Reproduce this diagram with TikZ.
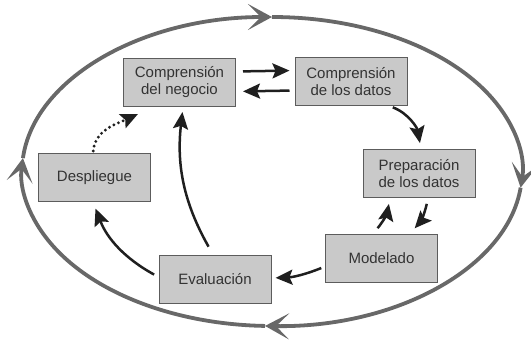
\documentclass[tikz,border=0pt]{standalone}
\usepackage{fontspec}
\setmainfont{Liberation Sans}
\usetikzlibrary{arrows.meta}

\definecolor{grisfase}{HTML}{C9C9C9}
\definecolor{grisborde}{HTML}{5C5C5C}
\definecolor{grisletra}{HTML}{333333}
\definecolor{grisciclo}{HTML}{686868}
\definecolor{negroflecha}{HTML}{1F1F1F}

\begin{document}
\begin{tikzpicture}[
				x = 1pt, y = 1pt, % one unit = one pixel
				> = {Stealth[length=17pt,width=15pt,inset=3pt]}, % arrow head style
				fase/.style = {rectangle, draw=grisborde, fill=grisfase, line width=1pt,
					minimum width=112pt, minimum height=48pt, align=center,
					text=grisletra, font=\fontsize{15}{17}\selectfont},
				paso/.style = {->, line width=2.5pt, color=negroflecha}, % inner arrows
				ciclo/.style = {line width=3.8pt, draw=grisciclo,
					-{Stealth[length=24pt,width=26pt,inset=13pt]}}
				]
				
				\useasboundingbox (0,0) rectangle (531,341);
				
				% outer cycle
				\coordinate (hub) at (272,169.5);
				\draw[ciclo] ([shift={(175:250pt and 154.5pt)}]hub)
					arc[start angle=175, end angle=90, x radius=250pt, y radius=154.5pt];
				\draw[ciclo] ([shift={(90:250pt and 154.5pt)}]hub)
					arc[start angle=90, end angle=-6, x radius=250pt, y radius=154.5pt];
				\draw[ciclo] ([shift={(-6:250pt and 154.5pt)}]hub)
					arc[start angle=-6, end angle=-91.6, x radius=250pt, y radius=154.5pt];
				\draw[ciclo] ([shift={(-91.6:250pt and 154.5pt)}]hub)
					arc[start angle=-91.6, end angle=-185, x radius=250pt, y radius=154.5pt];
				
				\node[fase] (qN) at (179.5,258.5) {Comprensión\\del negocio};
				\node[fase] (qD) at (351,259.5) {Comprensión\\de los datos};
				\node[fase] (qP) at (419,167.5) {Preparación\\de los datos};
				\node[fase] (qM) at (381.5,83) {Modelado};
				\node[fase] (qE) at (215,62) {Evaluación};
				\node[fase] (qS) at (94.5,163.5) {Despliegue};
				
				\path[paso]
				([yshift=11pt]qN.east) edge [shorten <=7pt, shorten >=5pt] ([yshift=11pt]qD.west)
				([yshift=-9pt]qD.west) edge [shorten <=5pt, shorten >=7pt] ([yshift=-9pt]qN.east)
				([xshift=38pt]qD.south) edge [out=-20, in=100, shorten <=4pt, shorten >=6pt] ([xshift=2pt]qP.north)
				([xshift=9pt]qP.south) edge [bend left=15, shorten <=6pt, shorten >=7pt] ([xshift=28.5pt]qM.north)
				([xshift=-8.5pt]qM.north) edge [bend right=15, shorten <=7pt, shorten >=6pt] ([xshift=-29pt]qP.south)
				([yshift=-8.5pt]qM.west) edge [bend left=10, shorten <=4pt, shorten >=4pt] ([yshift=1pt]qE.east)
				([yshift=2pt]qE.west) edge [bend left=20, shorten <=5pt, shorten >=7pt] ([xshift=-1.5pt]qS.south)
				([xshift=-2pt]qE.north) edge [bend left=18, shorten <=9pt, shorten >=5pt] ([xshift=3.5pt]qN.south);
				
				% dotted return from deployment
				\draw[paso, line cap=round, dash pattern=on 0pt off 5pt, line width=3.2pt, shorten <=2pt]
					([xshift=-1.5pt]qS.north) to[out=85, in=205] ([xshift=15pt,yshift=-7pt]qN.south west);
			\end{tikzpicture}
\end{document}
